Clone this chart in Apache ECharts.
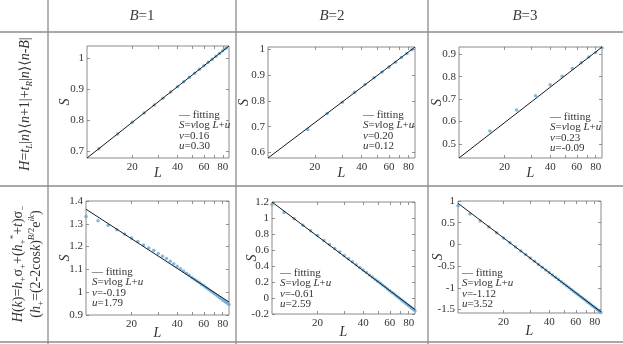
<!DOCTYPE html>
<html><head><meta charset="utf-8">
<script src="https://cdn.jsdelivr.net/npm/echarts@6/dist/echarts.min.js"></script>
<style>html,body{margin:0;padding:0;background:#fff}#c{width:623px;height:344px}</style>
</head><body><div id="c"></div>
<script>
// ---------------- data ----------------
const bLabels = ['1', '2', '3'];
const xTickLabels = [20, 40, 60, 80];
const xMinorTicks = [20, 30, 40, 50, 60, 70, 80];
const xRange = [10, 88];

const L_top_B1 = [12,16,20,24,28,32,36,40,44,48,52,56,60,64,68,72,76,80,84,88];
const S_top_B1 = [0.707,0.755,0.793,0.823,0.849,0.871,0.891,0.908,0.924,0.939,0.952,0.965,0.976,0.987,0.997,1.007,1.016,1.025,1.033,1.041];
const L_top_B2 = [18,24,30,36,42,48,54,60,66,72,78,84];
const S_top_B2 = [0.689,0.751,0.795,0.834,0.864,0.890,0.913,0.932,0.951,0.969,0.985,0.999];
const L_top_B3 = [16,24,32,40,48,56,64,72,80,88];
const S_top_B3 = [0.558,0.652,0.715,0.764,0.802,0.836,0.862,0.887,0.908,0.929];

const L_bottom = [10,12,14,16,18,20,22,24,26,28,30,32,34,36,38,40,42,44,46,48,50,52,54,56,58,60,62,64,66,68,70,72,74,76,78,80,82,84,86,88];
const S_bot_B1 = [1.332,1.313,1.294,1.274,1.255,1.238,1.222,1.207,1.194,1.183,1.170,1.158,1.148,1.136,1.125,1.114,1.103,1.093,1.083,1.074,1.064,1.057,1.049,1.042,1.035,1.028,1.021,1.014,1.008,1.001,0.995,0.989,0.983,0.977,0.972,0.966,0.961,0.956,0.951,0.946];
const S_bot_B2 = [1.17,1.07,0.99,0.91,0.84,0.78,0.72,0.67,0.62,0.575,0.53,0.49,0.452,0.416,0.382,0.35,0.319,0.289,0.261,0.234,0.208,0.183,0.159,0.136,0.113,0.091,0.070,0.049,0.029,0.009,-0.010,-0.028,-0.046,-0.063,-0.080,-0.097,-0.113,-0.129,-0.145,-0.160];
const S_bot_B3 = [0.89,0.70,0.54,0.40,0.27,0.15,0.04,-0.06,-0.15,-0.235,-0.315,-0.39,-0.46,-0.525,-0.587,-0.646,-0.703,-0.757,-0.809,-0.858,-0.905,-0.951,-0.995,-1.037,-1.078,-1.118,-1.156,-1.193,-1.229,-1.264,-1.298,-1.331,-1.363,-1.394,-1.425,-1.455,-1.484,-1.512,-1.540,-1.567];

// fitting lines: S at L = 10 and L = 88
const fitL = [10, 88];
const fit_top_B1 = [0.677, 1.040];
const fit_top_B2 = [0.578, 1.010];
const fit_top_B3 = [0.438, 0.932];
const fit_bot_B1 = [1.364, 0.957];
const fit_bot_B2 = [1.200, -0.145];
const fit_bot_B3 = [0.947, -1.556];

const vTexts = ['0.16', '0.20', '0.23', '-0.19', '-0.61', '-1.12'];
const uTexts = ['0.30', '0.12', '-0.09', '1.79', '2.59', '3.52'];

const yTicks_top_B1 = [0.7, 0.8, 0.9, 1];
const yTicks_top_B2 = [0.6, 0.7, 0.8, 0.9, 1];
const yTicks_top_B3 = [0.5, 0.6, 0.7, 0.8, 0.9];
const yTicks_bot_B1 = [0.9, 1, 1.1, 1.2, 1.3, 1.4];
const yTicks_bot_B2 = [-0.2, 0, 0.2, 0.4, 0.6, 0.8, 1, 1.2];
const yTicks_bot_B3 = [-1.5, -1, -0.5, 0, 0.5, 1];

// ---------------- layout ----------------
const SERIF = '"Liberation Serif", "Times New Roman", "DejaVu Serif", serif';
const TXT = '#333';
const BLUE = '#62a8d8';

const panels = [
  {g:[87,46,142,112],  yr:[0.677,1.040], yt:yTicks_top_B1, L:L_top_B1, S:S_top_B1, fit:fit_top_B1, leg:[179,115], sGap:15, lGap:8},
  {g:[268,47,147,111], yr:[0.578,1.010], yt:yTicks_top_B2, L:L_top_B2, S:S_top_B2, fit:fit_top_B2, leg:[363,115], sGap:17, lGap:8},
  {g:[459,47,143,111], yr:[0.438,0.932], yt:yTicks_top_B3, L:L_top_B3, S:S_top_B3, fit:fit_top_B3, leg:[550,117], sGap:15, lGap:8},
  {g:[86,201,143,114], yr:[0.9,1.4],     yt:yTicks_bot_B1, L:L_bottom, S:S_bot_B1, fit:fit_bot_B1, leg:[92,272],  sGap:14, lGap:11},
  {g:[272,202,143,112],yr:[-0.2,1.2],    yt:yTicks_bot_B2, L:L_bottom, S:S_bot_B2, fit:fit_bot_B2, leg:[280,273], sGap:13, lGap:11},
  {g:[458,201,143,112],yr:[-1.58,1.0],   yt:yTicks_bot_B3, L:L_bottom, S:S_bot_B3, fit:fit_bot_B3, leg:[462,273], sGap:13, lGap:11}
];

const lg = v => Math.log10(v);
const grid = [], xAxis = [], yAxis = [], series = [];
const tickStyle = {show:true, inside:true, length:3, lineStyle:{color:'#777', width:0.8}};
const noLine = {show:false, onZero:false};

panels.forEach((p, i) => {
  grid.push({left:p.g[0], top:p.g[1], width:p.g[2], height:p.g[3], show:true,
    borderColor:'#8a8a8a', borderWidth:1, backgroundColor:'#fff'});
  const xBase = {type:'value', gridIndex:i, min:lg(xRange[0]), max:lg(xRange[1]),
    splitLine:{show:false}, axisLine:noLine};
  xAxis.push(Object.assign({}, xBase, {position:'bottom',
    name:'L', nameLocation:'middle', nameGap:p.lGap, nameMoveOverlap:false,
    nameTextStyle:{fontFamily:SERIF, fontStyle:'italic', fontSize:14, color:TXT, verticalAlign:'top'},
    axisTick:Object.assign({}, tickStyle, {customValues:xMinorTicks.map(lg)}),
    axisLabel:{customValues:xTickLabels.map(lg), formatter:v => String(Math.round(Math.pow(10, v))),
      fontFamily:SERIF, fontSize:11, color:TXT, margin:4}}));
  xAxis.push(Object.assign({}, xBase, {position:'top',
    axisTick:Object.assign({}, tickStyle, {customValues:xMinorTicks.map(lg)}),
    axisLabel:{show:false}}));
  const yBase = {type:'value', gridIndex:i, min:p.yr[0], max:p.yr[1],
    splitLine:{show:false}, axisLine:noLine};
  yAxis.push(Object.assign({}, yBase, {position:'left',
    name:'S', nameLocation:'middle', nameGap:p.sGap, nameRotate:90, nameMoveOverlap:false,
    nameTextStyle:{fontFamily:SERIF, fontStyle:'italic', fontSize:14, color:TXT},
    axisTick:Object.assign({}, tickStyle, {customValues:p.yt}),
    axisLabel:{customValues:p.yt, formatter:v => String(+v.toFixed(2)),
      fontFamily:SERIF, fontSize:11, color:TXT, margin:3}}));
  yAxis.push(Object.assign({}, yBase, {position:'right',
    axisTick:Object.assign({}, tickStyle, {customValues:p.yt}),
    axisLabel:{show:false}}));
  series.push({type:'scatter', xAxisIndex:2*i, yAxisIndex:2*i, symbol:'circle', symbolSize:3.5,
    itemStyle:{color:BLUE}, z:2, silent:true,
    data:p.L.map((l, k) => [lg(l), p.S[k]])});
  series.push({type:'line', xAxisIndex:2*i, yAxisIndex:2*i, showSymbol:false, z:3, silent:true,
    lineStyle:{color:'#1a1a1a', width:1},
    data:fitL.map((l, k) => [lg(l), p.fit[k]])});
});

// ---------------- graphics (table, headers, legends) ----------------
const rich = {
  i:{fontFamily:SERIF, fontStyle:'italic', fontSize:14, fill:TXT, lineHeight:18, verticalAlign:'middle'},
  n:{fontFamily:SERIF, fontSize:14, fill:TXT, lineHeight:18, verticalAlign:'middle'},
  sub:{fontFamily:SERIF, fontSize:9, fill:TXT, lineHeight:18, verticalAlign:'bottom'},
  subi:{fontFamily:SERIF, fontStyle:'italic', fontSize:9, fill:TXT, lineHeight:18, verticalAlign:'bottom'},
  sup:{fontFamily:SERIF, fontSize:9, fill:TXT, lineHeight:18, verticalAlign:'top'},
  supi:{fontFamily:SERIF, fontStyle:'italic', fontSize:9, fill:TXT, lineHeight:18, verticalAlign:'top'}
};
const richH = {
  i:{fontFamily:SERIF, fontStyle:'italic', fontSize:15, fill:'#3a3a3a'},
  n:{fontFamily:SERIF, fontSize:15, fill:'#3a3a3a'}
};
const richS = {
  i:{fontFamily:SERIF, fontStyle:'italic', fontSize:11, fill:TXT},
  n:{fontFamily:SERIF, fontSize:11, fill:TXT}
};
const lineCol = '#8c8c8c';
const graphic = [];
[[48,0,48,344],[236,0,236,344],[428,0,428,344],[0,32,623,32],[0,186,623,186],[0,342,623,342]].forEach(s => {
  graphic.push({type:'line', shape:{x1:s[0], y1:s[1], x2:s[2], y2:s[3]}, style:{stroke:lineCol, lineWidth:1.3}, silent:true});
});
[142, 332, 525].forEach((x, k) => {
  graphic.push({type:'text', x:x, y:16, silent:true, style:{text:'{i|B}{n|=' + bLabels[k] + '}', rich:richH,
    align:'center', verticalAlign:'middle', fontFamily:SERIF, fontSize:15, fill:TXT}});
});
graphic.push({type:'text', x:25, y:104, rotation:Math.PI/2, silent:true, style:{
  text:'{i|H}{n|=}{i|t}{subi|L}{n|\u007C}{i|n}{n|\u27E9\u27E8}{i|n}{n|+1\u007C+}{i|t}{subi|R}{n|\u007C}{i|n}{n|\u27E9\u27E8}{i|n}{n|-}{i|B}{n|\u007C}',
  rich:rich, align:'center', verticalAlign:'middle', fontFamily:SERIF, fontSize:14, fill:TXT}});
graphic.push({type:'text', x:27, y:264, rotation:Math.PI/2, silent:true, style:{
  text:'{i|H}{n|(}{i|k}{n|)=}{i|h}{sub|+}{n|\u03C3}{sub|+}{n|+(}{i|h}{sub|+}{sup|*}{n|+}{i|t}{n|)\u03C3}{sub|\u2212}\n' +
       '{n|(}{i|h}{sub|+}{n|=(2-2cos}{i|k}{n|)}{supi|B}{sup|/2}{n|e}{supi|ik}{n|)}',
  rich:rich, align:'center', verticalAlign:'middle', fontFamily:SERIF, fontSize:14, fill:TXT, lineHeight:18}});

panels.forEach((p, i) => {
  const x = p.leg[0], y = p.leg[1];
  const rows = [
    '{n|\u2014 fitting}',
    '{i|S}{n|=}{i|v}{n|log }{i|L}{n|+}{i|u}',
    '{i|v}{n|=' + vTexts[i] + '}',
    '{i|u}{n|=' + uTexts[i] + '}'
  ];
  rows.forEach((r, k) => {
    graphic.push({type:'text', x:x, y:y + k * 10.5, z:100, silent:true, style:{text:r, rich:richS,
      align:'left', verticalAlign:'middle', fontFamily:SERIF, fontSize:11, fill:TXT}});
  });
});

const chart = echarts.init(document.getElementById('c'), null, {renderer:'canvas'});
chart.setOption({animation:false, backgroundColor:'#fff', grid, xAxis, yAxis, series, graphic});
</script></body></html>
